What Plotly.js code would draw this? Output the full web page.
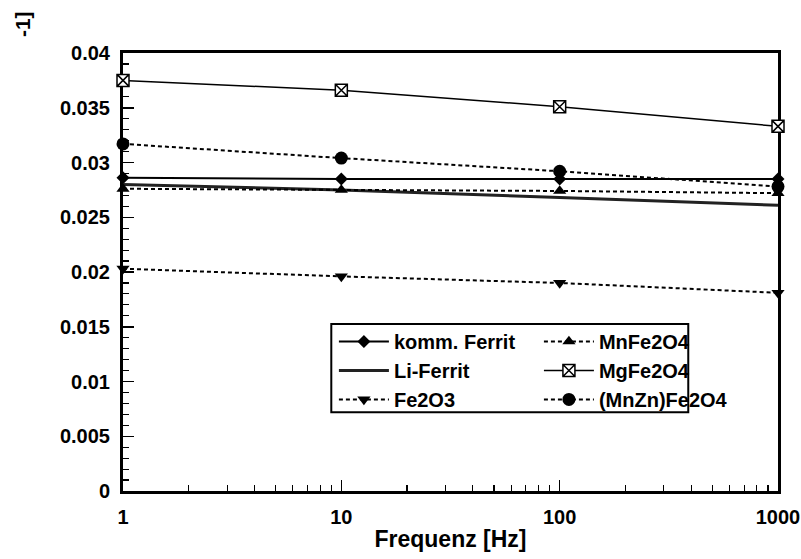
<!DOCTYPE html>
<html>
<head>
<meta charset="utf-8">
<script src="https://cdn.plot.ly/plotly-3.0.1.min.js"></script>
<style>html,body{margin:0;padding:0;background:#fff;}#chart{width:801px;height:559px;}</style>
</head>
<body>
<div id="chart"></div>
<script>
const frequencies = [1, 10, 100, 1000];
const kommFerrit = [0.0286, 0.0285, 0.0285, 0.0285];
const liFerrit = [0.0280, 0.0275, 0.0268, 0.0261];
const fe2o3 = [0.0203, 0.0196, 0.0190, 0.0181];
const mnFe2o4 = [0.0276, 0.0275, 0.0274, 0.0272];
const mgFe2o4 = [0.0375, 0.0366, 0.0351, 0.0333];
const mnZnFe2o4 = [0.0317, 0.0304, 0.0292, 0.0278];
const xTickVals = [1, 10, 100, 1000];
const xTickText = ['1', '10', '100', '1000'];

const FONT = 'Liberation Sans, Arial, sans-serif';
const dash = '4px,3px';

const traces = [
  {name: 'komm. Ferrit', x: frequencies, y: kommFerrit, mode: 'lines+markers', cliponaxis: false,
   line: {color: '#000', width: 2}, marker: {symbol: 'diamond', size: 10, color: '#000'}, legend: 'legend'},
  {name: 'Li-Ferrit', x: frequencies, y: liFerrit, mode: 'lines', cliponaxis: false,
   line: {color: '#222', width: 3}, legend: 'legend'},
  {name: 'Fe2O3', x: frequencies, y: fe2o3, mode: 'lines+markers', cliponaxis: false,
   line: {color: '#000', width: 2, dash: dash}, marker: {symbol: 'triangle-down', size: 11.5, color: '#000'}, legend: 'legend'},
  {name: 'MnFe2O4', x: frequencies, y: mnFe2o4, mode: 'lines+markers', cliponaxis: false,
   line: {color: '#000', width: 2, dash: dash}, marker: {symbol: 'triangle-up', size: 11.5, color: '#000'}, legend: 'legend2'},
  {name: 'MgFe2O4', x: frequencies, y: mgFe2o4, mode: 'lines+markers', cliponaxis: false,
   line: {color: '#000', width: 1.5}, marker: {symbol: 'square-x', size: 12, color: '#fff', line: {color: '#000', width: 1.5}}, legend: 'legend2'},
  {name: '(MnZn)Fe2O4', x: frequencies, y: mnZnFe2o4, mode: 'lines+markers', cliponaxis: false,
   line: {color: '#000', width: 2, dash: dash}, marker: {symbol: 'circle', size: 13, color: '#000'}, legend: 'legend2'}
];

const legendCommon = {
  bgcolor: 'rgba(0,0,0,0)', borderwidth: 0, orientation: 'v',
  font: {family: FONT, size: 20, color: '#000', weight: 'bold'},
  itemwidth: 50, tracegroupgap: 0, xanchor: 'left', yanchor: 'top'
};

const layout = {
  width: 801, height: 559,
  margin: {l: 122.5, r: 23, t: 52.7, b: 68.3},
  paper_bgcolor: '#fff', plot_bgcolor: '#fff',
  font: {family: FONT, color: '#000', size: 19, weight: 'bold'},
  showlegend: true,
  legend: Object.assign({}, legendCommon, {x: 0.322, y: 0.386}),
  legend2: Object.assign({}, legendCommon, {x: 0.635, y: 0.386}),
  xaxis: {
    type: 'log', range: [0, 3], layer: 'below traces',
    tickvals: xTickVals, ticktext: xTickText,
    ticks: 'inside', ticklen: 11, tickwidth: 1.5, tickcolor: '#000',
    minor: {ticks: 'inside', ticklen: 6, tickwidth: 1.2, tickcolor: '#000', dtick: 'D1', showgrid: false},
    showline: true, linewidth: 3, linecolor: '#000', mirror: true,
    showgrid: false, zeroline: false,
    ticklabelstandoff: 6,
    tickfont: {family: FONT, size: 20, color: '#000', weight: 'bold'},
    title: {text: 'Frequenz [Hz]', font: {family: FONT, size: 23, color: '#000', weight: 'bold'}, standoff: 4}
  },
  yaxis: {
    range: [0, 0.04], dtick: 0.005, tick0: 0, layer: 'below traces',
    ticks: 'inside', ticklen: 11, tickwidth: 1.5, tickcolor: '#000',
    minor: {ticks: 'inside', ticklen: 6, tickwidth: 1.2, tickcolor: '#000', dtick: 0.001, showgrid: false},
    showline: true, linewidth: 3, linecolor: '#000', mirror: true,
    showgrid: false, zeroline: false,
    ticklabelstandoff: 6,
    tickfont: {family: FONT, size: 20, color: '#000', weight: 'bold'}
  },
  shapes: [
    {type: 'rect', xref: 'paper', yref: 'paper', x0: 0.318, x1: 0.863, y0: 0.180, y1: 0.381,
     line: {color: '#000', width: 2}, fillcolor: 'rgba(0,0,0,0)', layer: 'above'}
  ],
  annotations: [
    {text: '-1]', xref: 'paper', yref: 'paper', x: -0.175, y: 1.10, showarrow: false,
     textangle: -90, font: {family: FONT, size: 21, color: '#000', weight: 'bold'}}
  ]
};

Plotly.newPlot('chart', traces, layout, {displayModeBar: false, staticPlot: true});
</script>
</body>
</html>
